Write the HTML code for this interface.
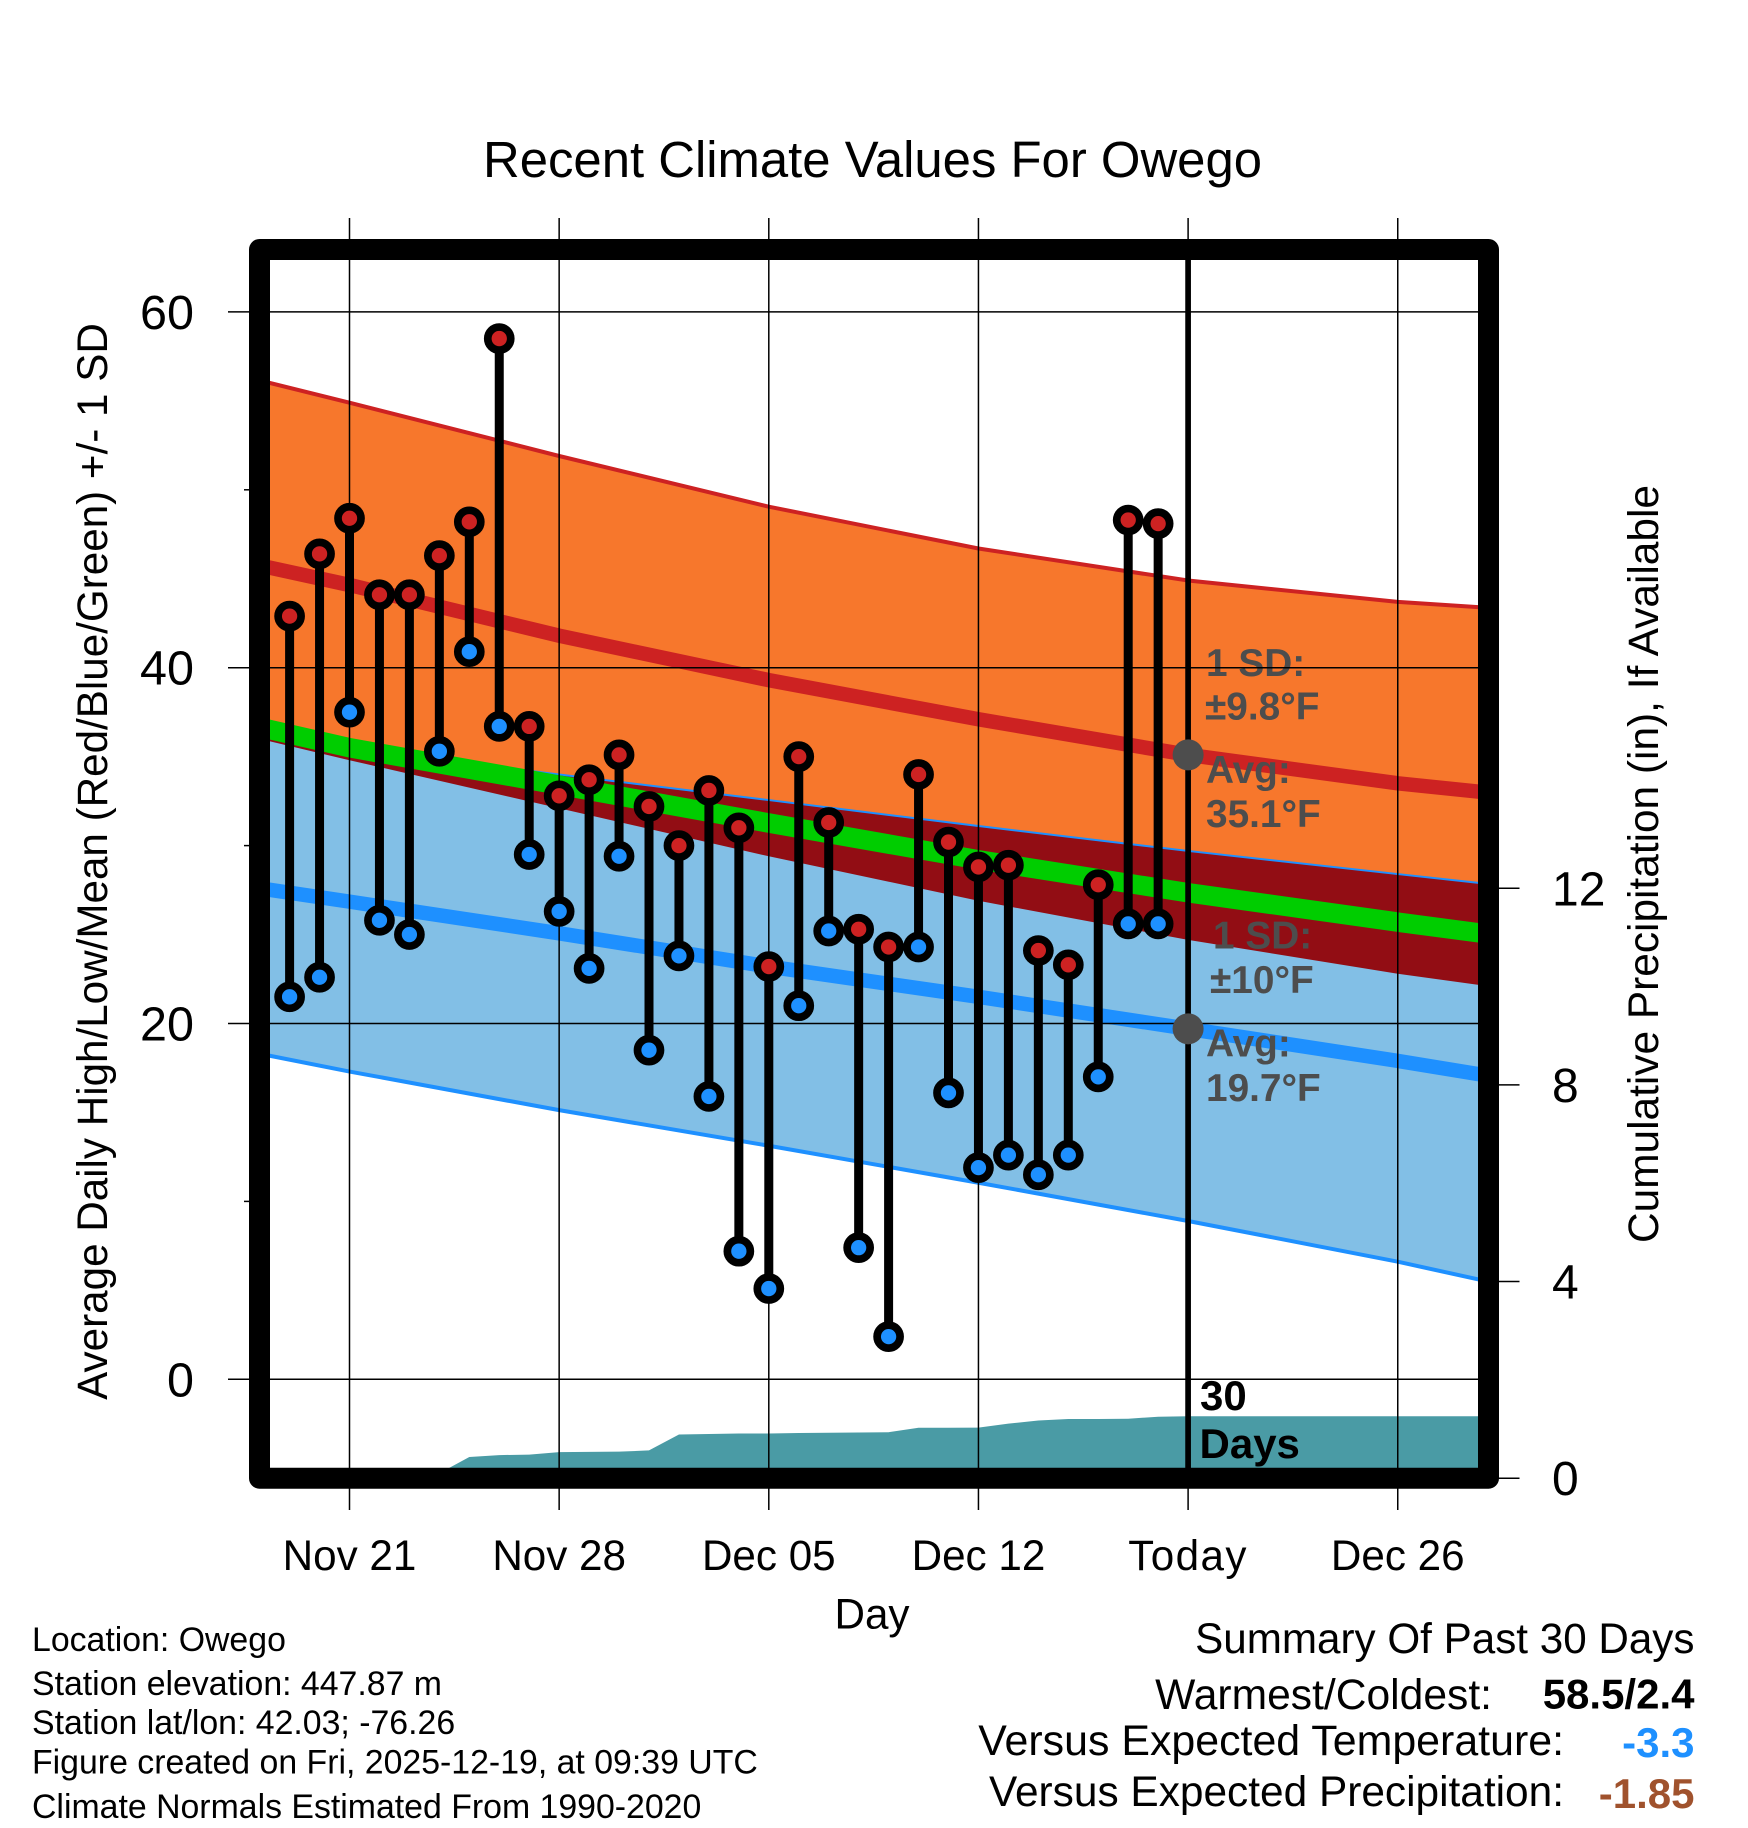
<!DOCTYPE html>
<html lang="en">
<head>
<meta charset="utf-8">
<title>Recent Climate Values For Owego</title>
<style>
html,body{margin:0;padding:0;background:#fff;width:1748px;height:1828px;overflow:hidden}
svg{display:block}
text{font-family:"Liberation Sans",sans-serif;fill:#000}
.note{font-size:38.8px;font-weight:bold;fill:#4d4d4d}
.foot{font-size:33.85px}
.sum{font-size:42.2px;text-anchor:end}
.val{font-size:42px;font-weight:bold;text-anchor:end}
</style>
</head>
<body>
<svg id="chart" xmlns="http://www.w3.org/2000/svg" width="1748" height="1828" viewBox="0 0 1748 1828">
  <text x="872.5" y="177" font-size="50.85" text-anchor="middle">Recent Climate Values For Owego</text>
  <g id="fills"></g>
  <g id="annotations">
    <text class="note" x="1206" y="676">1 SD:</text>
    <text class="note" x="1205" y="719.5">±9.8°F</text>
    <text class="note" x="1206" y="783">Avg:</text>
    <text class="note" x="1206" y="827">35.1°F</text>
    <text class="note" x="1213" y="948.5">1 SD:</text>
    <text class="note" x="1210" y="993">±10°F</text>
    <text class="note" x="1206" y="1056.5">Avg:</text>
    <text class="note" x="1206" y="1101">19.7°F</text>
  </g>
  <g id="grid"></g>
  <g id="marks"></g>
  <text x="1200" y="1410" font-size="42" font-weight="bold">30</text>
  <text x="1199.5" y="1458" font-size="42" font-weight="bold">Days</text>
  <rect x="259.5" y="249.5" width="1229" height="1228.7" fill="none" stroke="#000" stroke-width="21" stroke-linejoin="round"/>
  <g id="labels"></g>
  <text transform="translate(107,861.5) rotate(-90)" font-size="42.2" text-anchor="middle">Average Daily High/Low/Mean (Red/Blue/Green) +/- 1 SD</text>
  <text transform="translate(1658,864) rotate(-90)" font-size="42.4" text-anchor="middle">Cumulative Precipitation (in), If Available</text>
  <text x="872" y="1628.5" font-size="42.2" text-anchor="middle">Day</text>
  <text class="foot" x="32" y="1651">Location: Owego</text>
  <text class="foot" x="32" y="1695">Station elevation: 447.87 m</text>
  <text class="foot" x="32" y="1734">Station lat/lon: 42.03; -76.26</text>
  <text class="foot" x="32" y="1773.5">Figure created on Fri, 2025-12-19, at 09:39 UTC</text>
  <text class="foot" x="32" y="1818">Climate Normals Estimated From 1990-2020</text>
  <text class="sum" x="1694.5" y="1653">Summary Of Past 30 Days</text>
  <text class="sum" x="1492" y="1709" style="font-size:42.6px">Warmest/Coldest:</text>
  <text class="val" x="1694.5" y="1708.5">58.5/2.4</text>
  <text class="sum" x="1564" y="1755" style="font-size:42.9px">Versus Expected Temperature:</text>
  <text class="val" x="1694.5" y="1757" style="fill:#1e90ff">-3.3</text>
  <text class="sum" x="1564" y="1806" style="font-size:42.4px">Versus Expected Precipitation:</text>
  <text class="val" x="1694.5" y="1808" style="fill:#a0522d">-1.85</text>
</svg>
<script>
// Observation days, counted from Nov 21 (day 0)
const obsDays = [-2,-1,0,1,2,3,4,5,6,7,8,9,10,11,12,13,14,15,16,17,18,19,20,21,22,23,24,25,26,27];
const dailyHighs = [42.9,46.4,48.4,44.1,44.1,46.3,48.2,58.5,36.7,32.8,33.7,35.1,32.2,30.0,33.1,31.0,23.2,35.0,31.3,25.3,24.3,34.0,30.2,28.8,28.9,24.1,23.3,27.8,48.3,48.1];
const dailyLows = [21.5,22.6,37.5,25.8,25.0,35.3,40.9,36.7,29.5,26.3,23.1,29.4,18.5,23.8,15.9,7.2,5.1,21.0,25.2,7.4,2.4,24.3,16.1,11.9,12.6,11.5,12.6,17.0,25.6,25.6];
// Climate normals, read at these days
const normalDays = [-3,0,7,14,21,28,35,38];
const highUpper = [56.15,54.9,51.9,49.05,46.7,44.9,43.7,43.37];
const highMean = [45.75,44.65,41.8,39.3,37.1,35.1,33.5,32.98];
const highLower = [36.0,34.8,32.1,29.4,26.9,24.7,22.8,22.1];
const overallMean = [36.65,35.5,33.4,31.27,29.2,27.35,25.7,25.03];
const lowUpper = [36.1,35.45,34.0,32.56,31.1,29.7,28.4,27.85];
const lowMean = [27.6,26.85,25.07,23.2,21.5,19.7,17.9,17.07];
const lowLower = [18.3,17.3,15.13,13.13,11.05,8.9,6.61,5.5];
// Cumulative precipitation
const precipDays = [-2,-1,0,1,2,3,4,5,6,7,8,9,10,11,12,13,14,15,16,17,18,19,20,21,22,23,24,25,26,27,28,38];
const precipValues = [0,0,0,0,0,0.10,0.43,0.47,0.48,0.53,0.535,0.54,0.565,0.89,0.90,0.91,0.91,0.92,0.925,0.93,0.935,1.025,1.025,1.03,1.11,1.175,1.205,1.205,1.21,1.25,1.26,1.26];
// Axis ticks
const xTickDays = [0,7,14,21,28,35];
const xTickLabels = ['Nov 21','Nov 28','Dec 05','Dec 12','Today','Dec 26'];
const yMajorTicks = [0,20,40,60];
const yMinorTicks = [10,30,50];
const precipTicks = [0,4,8,12];
const todayDay = 28;
const todayHighAvg = 35.1;
const todayLowAvg = 19.7;

function xScale(d){ return 349.5 + 29.95 * d; }
function yTemp(v){ return 1379.3 - 17.79 * v; }
function yPrecip(v){ return 1478.2 - 49.16 * v; }

const NS = 'http://www.w3.org/2000/svg';
function make(tag, parent, attrs){
  const el = document.createElementNS(NS, tag);
  for (const k in attrs) el.setAttribute(k, attrs[k]);
  parent.appendChild(el);
  return el;
}
function linePts(days, vals, yf){
  return days.map(function(d, i){ return xScale(d).toFixed(2) + ',' + yf(vals[i]).toFixed(2); });
}
function bandPts(upper, lower){
  return linePts(normalDays, upper, yTemp).concat(linePts(normalDays, lower, yTemp).reverse()).join(' ');
}
const fills = document.getElementById('fills');
const grid = document.getElementById('grid');
const marks = document.getElementById('marks');
const labels = document.getElementById('labels');

const highBand = make('polygon', fills, {points: bandPts(highUpper, highLower), fill: '#f7772c'});


const lowBand = make('polygon', fills, {points: bandPts(lowUpper, lowLower), fill: '#82bfe6'});


const overlapBand = make('polygon', fills, {points: bandPts(lowUpper, highLower), fill: '#920d14'});



const precipPts = linePts(precipDays, precipValues, yPrecip);
const precipArea = make('polygon', fills, {
  points: xScale(precipDays[0]) + ',' + yPrecip(0) + ' ' + precipPts.join(' ') + ' ' + xScale(38) + ',' + yPrecip(0),
  fill: '#4a9ba5'
});



const highUpperLine = make('polyline', fills, {points: linePts(normalDays, highUpper, yTemp).join(' '), fill: 'none', stroke: '#cd2222', 'stroke-width': 4});


const lowUpperLine = make('polyline', fills, {points: linePts(normalDays, lowUpper, yTemp).join(' '), fill: 'none', stroke: '#1e90ff', 'stroke-width': 2});


const lowLowerLine = make('polyline', fills, {points: linePts(normalDays, lowLower, yTemp).join(' '), fill: 'none', stroke: '#1e90ff', 'stroke-width': 4});


const highMeanLine = make('polyline', fills, {points: linePts(normalDays, highMean, yTemp).join(' '), fill: 'none', stroke: '#cd2222', 'stroke-width': 14.5});


const lowMeanLine = make('polyline', fills, {points: linePts(normalDays, lowMean, yTemp).join(' '), fill: 'none', stroke: '#1e90ff', 'stroke-width': 14.5});


const meanLine = make('polyline', fills, {points: linePts(normalDays, overallMean, yTemp).join(' '), fill: 'none', stroke: '#00cd00', 'stroke-width': 19.5});



xTickDays.forEach(function(d, i){
  const g = make('line', grid, {x1: xScale(d), x2: xScale(d), y1: 218, y2: 1510, stroke: '#000', 'stroke-width': 1.5});
  
  
  const t = make('text', labels, {x: xScale(d), y: 1570, 'font-size': 42.2, 'text-anchor': 'middle'});
  if (xTickLabels[i] === 'Today') t.setAttribute('letter-spacing', '1.4');
  t.textContent = xTickLabels[i];
  
  
});
yMajorTicks.forEach(function(v){
  const g = make('line', grid, {x1: 228, x2: 1480, y1: yTemp(v), y2: yTemp(v), stroke: '#000', 'stroke-width': 1.5});
  
  
  const t = make('text', labels, {x: 194, y: yTemp(v) + 17, 'font-size': 48.5, 'text-anchor': 'end'});
  t.textContent = String(v);
  
  
});
yMinorTicks.forEach(function(v){
  const g = make('line', grid, {x1: 244, x2: 250, y1: yTemp(v), y2: yTemp(v), stroke: '#000', 'stroke-width': 1.5});
  
  
});
precipTicks.forEach(function(v){
  const g = make('line', grid, {x1: 1498, x2: 1519.5, y1: yPrecip(v), y2: yPrecip(v), stroke: '#000', 'stroke-width': 1.5});
  
  
  const t = make('text', labels, {x: 1552, y: yPrecip(v) + 17, 'font-size': 48});
  t.textContent = String(v);
  
  
});
const todayLine = make('line', grid, {x1: xScale(todayDay), x2: xScale(todayDay), y1: 255, y2: 1472, stroke: '#000', 'stroke-width': 5.7});



obsDays.forEach(function(d, i){
  const stem = make('line', marks, {x1: xScale(d), x2: xScale(d), y1: yTemp(dailyHighs[i]), y2: yTemp(dailyLows[i]), stroke: '#000', 'stroke-width': 9});
  
  
});
obsDays.forEach(function(d, i){
  const hi = make('circle', marks, {cx: xScale(d), cy: yTemp(dailyHighs[i]), r: 11.5, fill: '#cd2222', stroke: '#000', 'stroke-width': 7.7});
  
  
  const lo = make('circle', marks, {cx: xScale(d), cy: yTemp(dailyLows[i]), r: 11.5, fill: '#1e90ff', stroke: '#000', 'stroke-width': 7.7});
  
  
});
const highDot = make('circle', marks, {cx: xScale(todayDay), cy: yTemp(todayHighAvg), r: 15.5, fill: '#4d4d4d'});


const lowDot = make('circle', marks, {cx: xScale(todayDay), cy: yTemp(todayLowAvg), r: 15.5, fill: '#4d4d4d'});


</script>
</body>
</html>
